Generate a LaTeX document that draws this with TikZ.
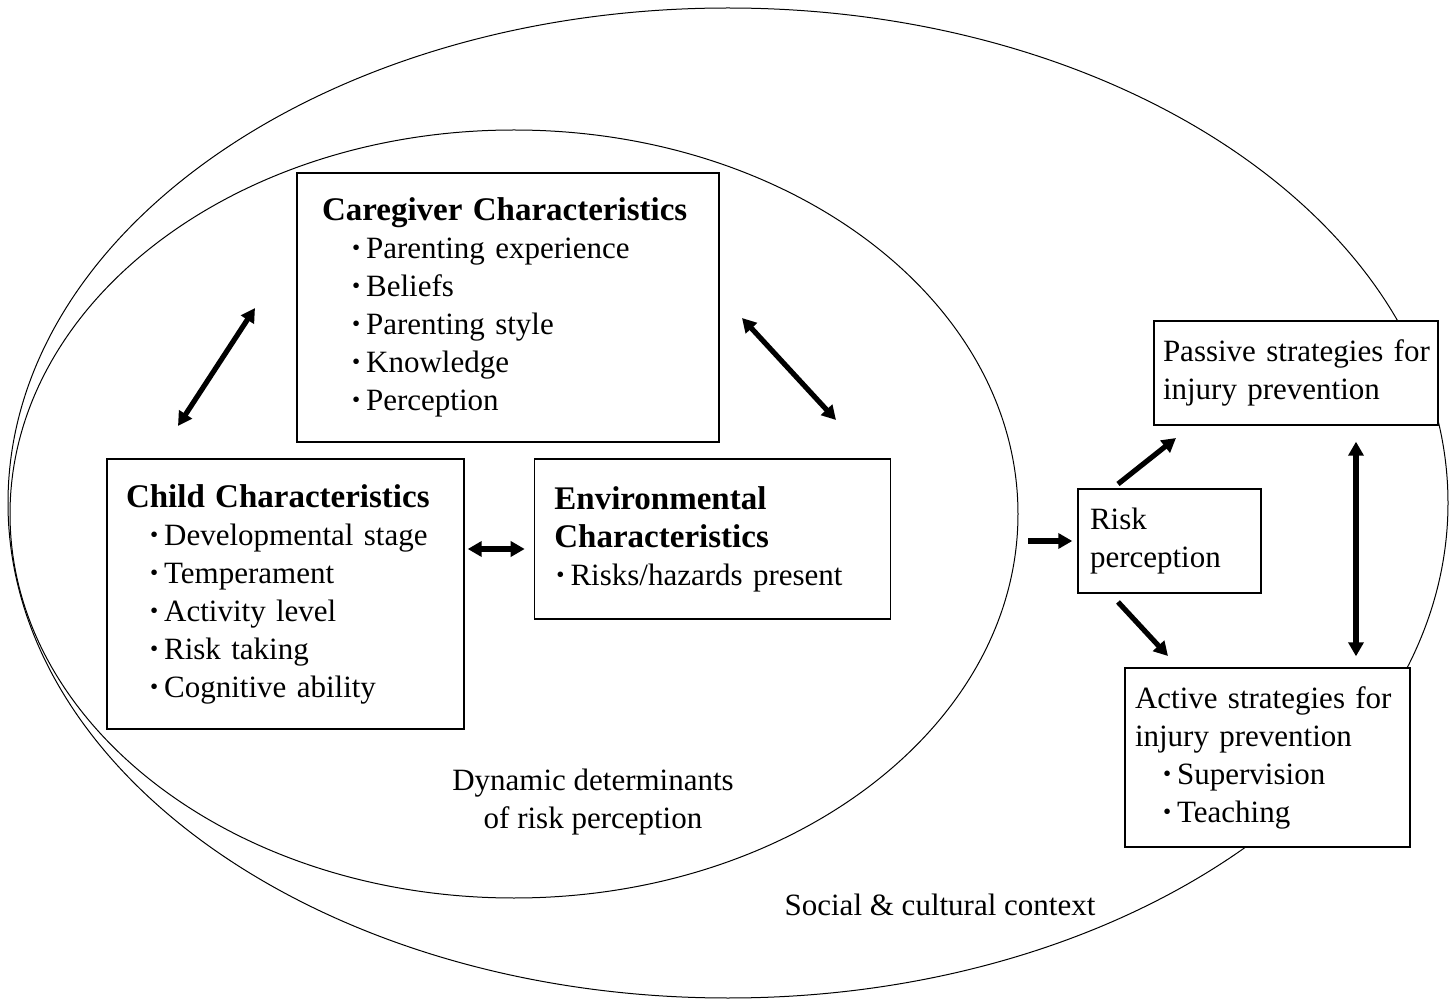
\documentclass[tikz,border=0pt]{standalone}
\usepackage{graphicx}
\usepackage{fontspec}
\setmainfont{Liberation Serif}
\usepackage{tikz}
\usetikzlibrary{arrows.meta, positioning, shapes.geometric}

\newcommand{\bul}{\raisebox{.2ex}{\scalebox{.75}{\textbullet}}\hspace{3pt}}
\newcommand{\hd}[1]{{\fontsize{16.5}{19}\selectfont\bfseries #1}}

\begin{document}
\begin{tikzpicture}[x=0.5pt, y=-0.5pt,
    box/.style={rectangle, draw=black, line width=0.7pt, fill=white,
                align=left, inner ysep=3pt, font=\fontsize{15.5}{19}\selectfont},
    oval/.style={ellipse, draw=black, line width=0.5pt, inner sep=0pt, outer sep=0pt},
    note/.style={align=center, font=\fontsize{15.5}{19}\selectfont},
    arrow/.style={-{Triangle[length=7pt, width=7.5pt]}, line width=2.6pt},
    both/.style={{Triangle[length=7pt, width=7.5pt]}-{Triangle[length=7pt, width=7.5pt]}, line width=2.6pt}
  ]
  \useasboundingbox (0,0) rectangle (1453,1000);

  % context ovals
  \node[oval, minimum width=720pt, minimum height=495pt] (context) at (728,503) {};
  \node[oval, minimum width=504pt, minimum height=384pt] (dyn) at (514,514) {};

  % determinants
  \node[box, text width=186pt, inner xsep=12.5pt, minimum height=134.5pt] (care) at (508,307.5)
    {\hd{Caregiver Characteristics}\\
     \hspace*{15pt}\bul Parenting experience\\
     \hspace*{15pt}\bul Beliefs\\
     \hspace*{15pt}\bul Parenting style\\
     \hspace*{15pt}\bul Knowledge\\
     \hspace*{15pt}\bul Perception};
  \node[box, text width=159.5pt, inner xsep=9.5pt, minimum height=135pt] (child) at (285.5,594)
    {\hd{Child Characteristics}\\
     \hspace*{12pt}\bul Developmental stage\\
     \hspace*{12pt}\bul Temperament\\
     \hspace*{12pt}\bul Activity level\\
     \hspace*{12pt}\bul Risk taking\\
     \hspace*{12pt}\bul Cognitive ability};
  \node[box, text width=158pt, inner xsep=10pt, minimum height=80pt,
        right=34.5pt of child.north east, anchor=north west] (env)
    {\hd{Environmental}\\
     \hd{Characteristics}\\
     \hspace*{1pt}\bul Risks/hazards present};

  % outcome
  \node[box, text width=79.5pt, inner xsep=6pt, minimum height=52pt] (risk) at (1169.5,541)
    {Risk\\ perception};
  \node[box, text width=137pt, inner xsep=2.5pt, minimum height=52pt] (passive) at (1296,373)
    {\hspace*{2pt}Passive strategies for\\ \hspace*{2pt}injury prevention};
  \node[box, text width=132.5pt, inner xsep=5pt, minimum height=89.5pt] (active) at (1267.5,757.5)
    {Active strategies for\\ injury prevention\\
     \hspace*{14pt}\bul Supervision\\
     \hspace*{14pt}\bul Teaching};

  \node[note] (dynlabel) at (593,802) {Dynamic determinants\\ of risk perception};
  \node[note] (ctxlabel) at (940,905) {Social \& cultural context};

  % arrow ends
  \coordinate (ca1) at (178,426);
  \coordinate (ca2) at (255,308);
  \coordinate (ce1) at (742,318);
  \coordinate (ce2) at (836,420);
  \coordinate (dynout) at (1028,541);
  \coordinate (rp1) at (1118,484);
  \coordinate (rp2) at (1176,438);
  \coordinate (ra1) at (1118,602);
  \coordinate (ra2) at (1168,656);

  \draw[both] (ca1) -- (ca2);
  \draw[both] (ce1) -- (ce2);
  \draw[both, shorten <=4.5pt, shorten >=1.5pt] ([yshift=-5pt]env.west) -- ([yshift=-5pt]env.west -| child.east);
  \draw[arrow, shorten >=2.5pt] (dynout) -- (risk);
  \draw[arrow] (rp1) -- (rp2);
  \draw[arrow] (ra1) -- (ra2);
  \draw[both, shorten <=8pt, shorten >=5.5pt] ([xshift=30pt]passive.south) -- ([xshift=30pt]passive.south |- active.north);
\end{tikzpicture}
\end{document}
